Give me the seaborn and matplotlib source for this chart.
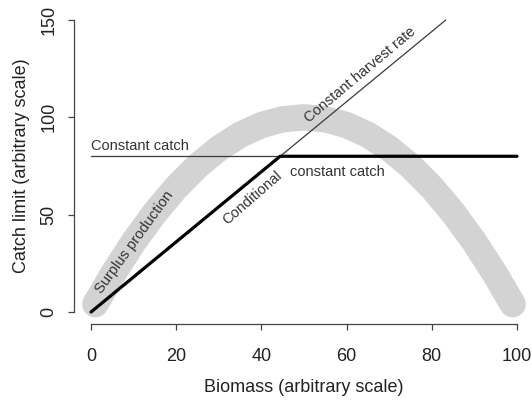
import numpy as np
import pandas as pd
import matplotlib
matplotlib.use("Agg")
import matplotlib.pyplot as plt
import seaborn as sns

# ---- data ----
sp_biomass = [1, 5, 10, 15, 20, 25, 30, 35, 40, 45, 50,
              55, 60, 65, 70, 75, 80, 85, 90, 95, 99]
sp_catch = [4.0, 19.0, 36.0, 51.0, 64.0, 75.0, 84.0, 91.0, 96.0, 99.0, 100.0,
            99.0, 96.0, 91.0, 84.0, 75.0, 64.0, 51.0, 36.0, 19.0, 4.0]

chr_biomass = [0, 83.3]          # constant harvest rate
chr_catch = [0, 150]

cc_biomass = [0, 100]            # constant catch
cc_catch = [80, 80]

cond_biomass = [0, 44.4, 100]    # conditional constant catch
cond_catch = [0, 80, 80]

x_ticks = [0, 20, 40, 60, 80, 100]
y_ticks = [0, 50, 100, 150]

sns.set_theme(style="white")
plt.rcParams["font.family"] = ["Liberation Sans", "DejaVu Sans"]

W, H = 532, 403
fig = plt.figure(figsize=(W / 100, H / 100), dpi=100)
ax_left, ax_right = 74 / W, 534 / W
ax_bottom, ax_top = 1 - 323.7 / H, 1 - 8.3 / H
ax = fig.add_axes([ax_left, ax_bottom, ax_right - ax_left, ax_top - ax_bottom])

sp = pd.DataFrame({"Biomass": sp_biomass, "Catch": sp_catch})
sns.lineplot(data=sp, x="Biomass", y="Catch", ax=ax, color="#d3d3d3",
             linewidth=19, sort=False, estimator=None,
             solid_capstyle="round", solid_joinstyle="round", zorder=1)

sns.lineplot(x=chr_biomass, y=chr_catch, ax=ax, color="#3a3a3a",
             linewidth=0.9, sort=False, estimator=None, zorder=2)
sns.lineplot(x=cc_biomass, y=cc_catch, ax=ax, color="#3a3a3a",
             linewidth=0.9, sort=False, estimator=None, zorder=2)
sns.lineplot(x=cond_biomass, y=cond_catch, ax=ax, color="black",
             linewidth=2.3, sort=False, estimator=None, zorder=3,
             solid_capstyle="round")

txt_kw = dict(fontsize=10.5, color="#333333", ha="center", va="center")
ax.text(10.1, 36, "Surplus production", rotation=54, **txt_kw)
ax.text(38, 58.5, "Conditional", rotation=41, **txt_kw)
ax.text(63.1, 122, "Constant harvest rate", rotation=40, **txt_kw)
ax.text(0, 85.5, "Constant catch", fontsize=10.5, color="#333333",
        ha="left", va="center")
ax.text(46.7, 72, "constant catch", fontsize=10.5, color="#333333",
        ha="left", va="center")

ax.set_xlim(-4, 104)
ax.set_ylim(-6, 156)
ax.set_xticks(x_ticks)
ax.set_yticks(y_ticks)
ax.set_xticklabels([str(v) for v in x_ticks])
ax.set_yticklabels([str(v) for v in y_ticks], rotation=90, va="center")

for s in ["top", "right"]:
    ax.spines[s].set_visible(False)
ax.spines["left"].set_bounds(0, 150)
ax.spines["bottom"].set_bounds(0, 100)
for s in ["left", "bottom"]:
    ax.spines[s].set_color("#444444")
    ax.spines[s].set_linewidth(0.9)

ax.tick_params(axis="both", which="major", direction="out", length=4.1,
               width=0.9, color="#444444", labelsize=13, labelcolor="#222222",
               left=True, bottom=True)
ax.tick_params(axis="x", pad=13.7)
ax.tick_params(axis="y", pad=7.9)

ax.set_xlabel("Biomass (arbitrary scale)", fontsize=13, color="#222222")
ax.set_ylabel("Catch limit (arbitrary scale)", fontsize=13, color="#222222")
ax.xaxis.set_label_coords(0.5, -0.174)
ax.yaxis.set_label_coords(-0.095, 0.5)

ax.set_facecolor("white")
fig.patch.set_facecolor("white")
fig.savefig("out.png", dpi=100)
